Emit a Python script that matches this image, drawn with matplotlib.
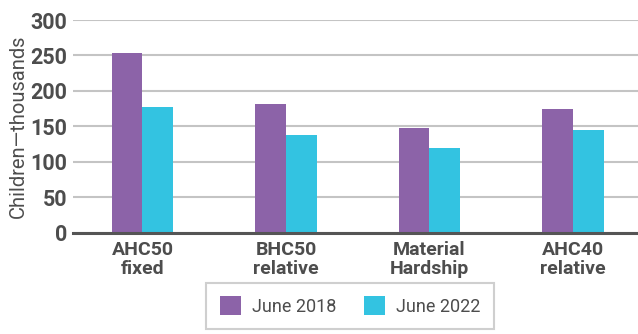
import numpy as np
import matplotlib.pyplot as plt

plt.rcParams['font.family'] = ['Roboto', 'DejaVu Sans']

# children in poverty, thousands
categories = ['AHC50\nfixed', 'BHC50\nrelative', 'Material\nHardship', 'AHC40\nrelative']
june_2018 = [253, 182, 147, 174]
june_2022 = [177, 138, 119, 145]

purple = '#8c63a8'
cyan = '#33c3e1'
grey_text = '#4d4d4d'

fig = plt.figure(figsize=(6.38, 3.34), dpi=100)
ax = fig.add_axes([0.1144, 0.3033, 0.8856, 0.6367])

x = np.arange(len(categories))
w = 0.214
ax.bar(x - w / 2, june_2018, w, color=purple, label='June 2018', zorder=3)
ax.bar(x + w / 2, june_2022, w, color=cyan, label='June 2022', zorder=3)

ax.set_xlim(-0.484, 3.453)
ax.set_ylim(0, 300)
ax.set_yticks(range(0, 301, 50))
ax.yaxis.grid(True, color='#c4c4c4', linewidth=1.5, zorder=0)

for s in ['top', 'right', 'left']:
    ax.spines[s].set_visible(False)
ax.spines['bottom'].set_color('#555555')
ax.spines['bottom'].set_linewidth(2.2)
ax.spines['bottom'].set_zorder(4)

ax.set_xticks(x)
ax.set_xticklabels(categories, fontsize=14, fontweight='bold', color=grey_text,
                   linespacing=1.05)
ax.tick_params(axis='x', length=0, pad=6)
ax.tick_params(axis='y', length=0, pad=4, labelsize=15.5, labelcolor=grey_text)
for lab in ax.get_yticklabels():
    lab.set_fontweight('bold')

ax.set_ylabel('Children\u2014thousands', fontsize=14.5, color=grey_text, labelpad=2)

leg = fig.legend(loc='upper center', bbox_to_anchor=(350 / 638, 0.153), ncol=2,
                 frameon=True, fancybox=False, fontsize=13, handlelength=1.2,
                 handleheight=1.2, columnspacing=1.5, handletextpad=0.6,
                 borderpad=0.75, borderaxespad=0, labelcolor=grey_text)
leg.get_frame().set_edgecolor('#c4c4c4')
leg.get_frame().set_linewidth(1.5)

fig.savefig('out.png', dpi=100)
